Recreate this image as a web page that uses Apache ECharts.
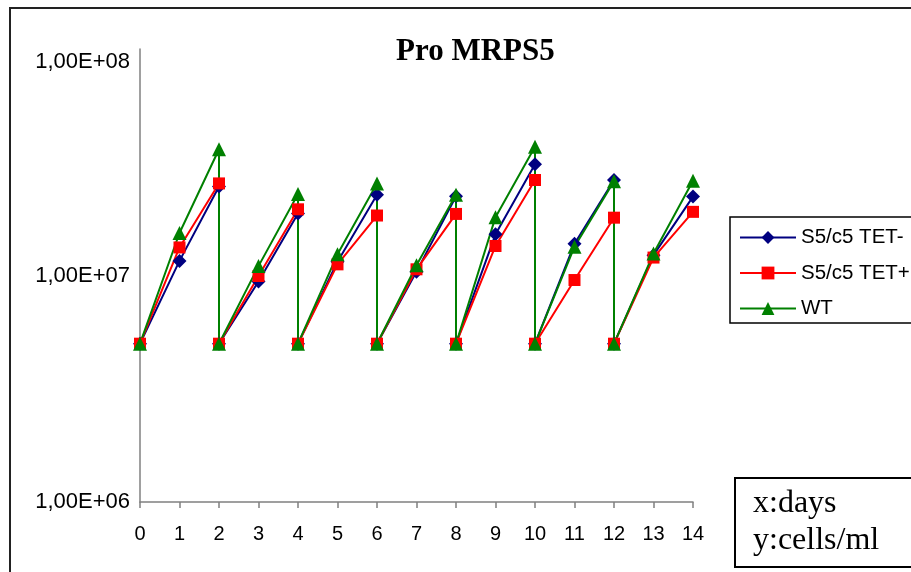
<!DOCTYPE html>
<html>
<head>
<meta charset="utf-8">
<script src="https://cdn.jsdelivr.net/npm/echarts@6/dist/echarts.min.js"></script>
<style>
html,body{margin:0;padding:0;background:#fff;}
#chart{width:911px;height:572px;}
</style>
</head>
<body>
<div id="chart"></div>
<script>
const titleText = 'Pro MRPS5';
const days = [0,1,2,2,3,4,4,5,6,6,7,8,8,9,10,10,11,12,12,13,14];
const tetMinus = [5e6,1.16e7,2.47e7,5e6,9.4e6,1.88e7,5e6,1.15e7,2.27e7,5e6,1.04e7,2.24e7,5e6,1.52e7,3.10e7,5e6,1.38e7,2.64e7,5e6,1.23e7,2.23e7];
const tetPlus  = [5e6,1.33e7,2.55e7,5e6,9.95e6,1.96e7,5e6,1.12e7,1.84e7,5e6,1.065e7,1.87e7,5e6,1.35e7,2.64e7,5e6,9.55e6,1.80e7,5e6,1.20e7,1.91e7];
const wt       = [5e6,1.54e7,3.61e7,5e6,1.10e7,2.29e7,5e6,1.24e7,2.55e7,5e6,1.11e7,2.27e7,5e6,1.81e7,3.70e7,5e6,1.34e7,2.61e7,5e6,1.25e7,2.62e7];
const seriesNames = ['S5/c5 TET-','S5/c5 TET+','WT'];
const yTickLabels = ['1,00E+06','1,00E+07','1,00E+08'];
const xTickLabels = ['0','1','2','3','4','5','6','7','8','9','10','11','12','13','14'];
const noteLines = ['x:days','y:cells/ml'];

function pairs(vals){ return days.map((d,i)=>[d, vals[i]]); }

const chart = echarts.init(document.getElementById('chart'), null, {renderer:'canvas'});
const sans = 'Liberation Sans';
const serif = 'Liberation Serif';

function mkSeries(name, vals, color, symbol, size){
  return {
    name: name, type: 'line', data: pairs(vals),
    symbol: symbol, symbolSize: size,
    lineStyle: {color: color, width: 2},
    itemStyle: {color: color},
    emphasis: {disabled: true},
    animation: false
  };
}

chart.setOption({
  backgroundColor: '#fff',
  animation: false,
  title: {
    text: titleText, left: 391, top: 31,
    textStyle: {fontFamily: serif, fontWeight: 'bold', fontSize: 31, color: '#000'}
  },
  grid: {left: 140, right: 218, top: 49, bottom: 70, containLabel: false},
  xAxis: {
    type: 'value', min: 0, max: 14, interval: 1,
    axisLine: {show: true, onZero: false, lineStyle: {color: '#808080', width: 1.5}},
    axisTick: {show: true, inside: false, length: 6, lineStyle: {color: '#808080', width: 1.5}},
    splitLine: {show: false},
    axisLabel: {
      margin: 22, fontFamily: sans, fontSize: 20, color: '#000',
      formatter: v => xTickLabels[Math.round(v)]
    }
  },
  yAxis: {
    type: 'log', logBase: 10, min: 1e6, max: 1e8,
    axisLine: {show: true, lineStyle: {color: '#808080', width: 1.5}},
    axisTick: {show: false},
    splitLine: {show: false},
    minorTick: {show: false},
    axisLabel: {
      margin: 10, fontFamily: sans, fontSize: 22, color: '#000',
      formatter: v => {
        const i = Math.round(Math.log10(v)) - 6;
        const t = yTickLabels[i];
        return i === 2 ? '{top|' + t + '}' : t;
      },
      rich: {top: {fontFamily: sans, fontSize: 22, color: '#000', padding: [26,0,0,0]}}
    }
  },
  legend: {
    orient: 'vertical', left: 730, top: 217,
    padding: [10, 20, 4, 9],
    itemWidth: 56, itemHeight: 16, itemGap: 14.5,
    borderColor: '#000', borderWidth: 1.5,
    textStyle: {fontFamily: sans, fontSize: 20.5, color: '#000', lineHeight: 21, padding: [0,0,0,0]},
    data: seriesNames,
    selectedMode: false
  },
  series: [
    mkSeries(seriesNames[0], tetMinus, '#000080', 'diamond', 14),
    mkSeries(seriesNames[1], tetPlus, '#ff0000', 'rect', 12),
    mkSeries(seriesNames[2], wt, '#008000', 'triangle', 14)
  ],
  graphic: [
    {type: 'rect', shape: {x: 10, y: 8, width: 940, height: 620},
     style: {fill: 'none', stroke: '#222', lineWidth: 2}, silent: true},
    {type: 'rect', shape: {x: 735, y: 478, width: 200, height: 89},
     style: {fill: '#fff', stroke: '#000', lineWidth: 2}, silent: true},
    {type: 'text', x: 753, y: 485,
     style: {text: noteLines.join('\n'), fontFamily: serif, fontSize: 32, lineHeight: 37, fill: '#000'},
     silent: true}
  ]
});
</script>
</body>
</html>
